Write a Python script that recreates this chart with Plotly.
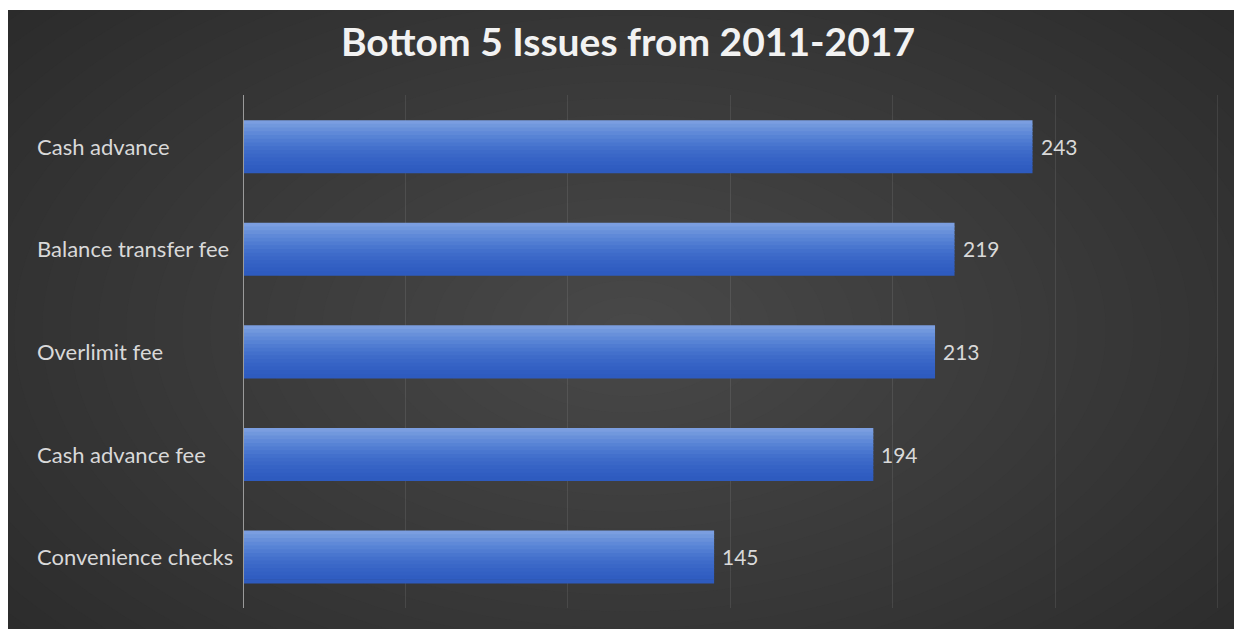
import plotly.graph_objects as go

categories = ["Cash advance", "Balance transfer fee", "Overlimit fee", "Cash advance fee", "Convenience checks"]
values = [243, 219, 213, 194, 145]
title_text = "Bottom 5 Issues from 2011-2017"

W, H = 1234, 629
L, R, T, B = 243, 15, 95, 21
PW, PH = W - L - R, H - T - B

def px_x(px):
    return (px - L) / PW

def px_y(py):
    return (H - B - py) / PH

fig = go.Figure()

# gradient bar strips (top light -> bottom dark)
strip_colors = ["#7b9ee0", "#7198dd", "#6890da", "#5f89d8", "#5783d5", "#507cd2",
                "#4976cf", "#4370cc", "#3e6bc9", "#3a67c7", "#3663c5", "#3360c3", "#305dc1", "#2e5bbf"]
bar_w = 0.51
n = len(strip_colors)
sw = bar_w / n
for i, c in enumerate(strip_colors):
    fig.add_trace(go.Bar(
        y=categories, x=values, orientation="h",
        marker=dict(color=c, line=dict(width=0)),
        width=sw * 1.2, offset=-bar_w / 2 + i * sw,
        showlegend=False, hoverinfo="skip",
    ))

shapes = []
# radial-ish lightening with opaque concentric ellipses
cx, cy = 630, 330
g0, g1 = 38, 72
NL = g1 - g0
for k in range(NL + 1):
    f = 1 - k / (NL + 1)
    rx, ry = 980 * f, 580 * f
    g = g0 + k
    shapes.append(dict(type="circle", xref="paper", yref="paper",
                       x0=px_x(cx - rx), x1=px_x(cx + rx),
                       y0=px_y(cy + ry), y1=px_y(cy - ry),
                       fillcolor=f"rgb({g},{g},{g})", line=dict(width=0), layer="below"))
# white margins (top and left)
shapes.append(dict(type="rect", xref="paper", yref="paper",
                   x0=px_x(-50), x1=px_x(W + 50), y0=px_y(10), y1=px_y(-50),
                   fillcolor="white", line=dict(width=0), layer="below"))
shapes.append(dict(type="rect", xref="paper", yref="paper",
                   x0=px_x(-50), x1=px_x(8), y0=px_y(H + 50), y1=px_y(-50),
                   fillcolor="white", line=dict(width=0), layer="below"))

annotations = []
for c in categories:
    annotations.append(dict(x=px_x(35), xref="paper", y=c, yref="y",
                            text=c, showarrow=False, xanchor="left", yanchor="middle",
                            font=dict(family="Lato", size=22, color="#d9d9d9")))
for c, v in zip(categories, values):
    annotations.append(dict(x=v, xref="x", y=c, yref="y", text=str(v),
                            showarrow=False, xanchor="left", yanchor="middle", xshift=6,
                            font=dict(family="Lato", size=21, color="#d9d9d9")))

fig.update_layout(
    width=W, height=H,
    margin=dict(l=L, r=R, t=T, b=B),
    paper_bgcolor="#262626", plot_bgcolor="rgba(0,0,0,0)",
    barmode="overlay", bargap=0.49,
    title=dict(text="<b>" + title_text + "</b>", x=628 / W, xanchor="center",
               y=1 - 42 / H, yanchor="middle", yref="container",
               font=dict(family="Lato", size=39, color="#f2f2f2")),
    xaxis=dict(range=[0, 300.4], dtick=50, showgrid=True, gridcolor="rgba(255,255,255,0.09)",
               gridwidth=1, zeroline=False, showticklabels=False, ticks="",
               showline=False, fixedrange=True),
    yaxis=dict(categoryorder="array", categoryarray=categories, autorange="reversed",
               showticklabels=False, ticks="", showgrid=False, showline=False, zeroline=False),
    shapes=shapes, annotations=annotations,
)
# y axis line at zero
fig.add_shape(type="line", xref="x", yref="paper", x0=0, x1=0, y0=0, y1=1,
              line=dict(color="#9a9a9a", width=2), layer="above")

fig.write_html("out.html")
